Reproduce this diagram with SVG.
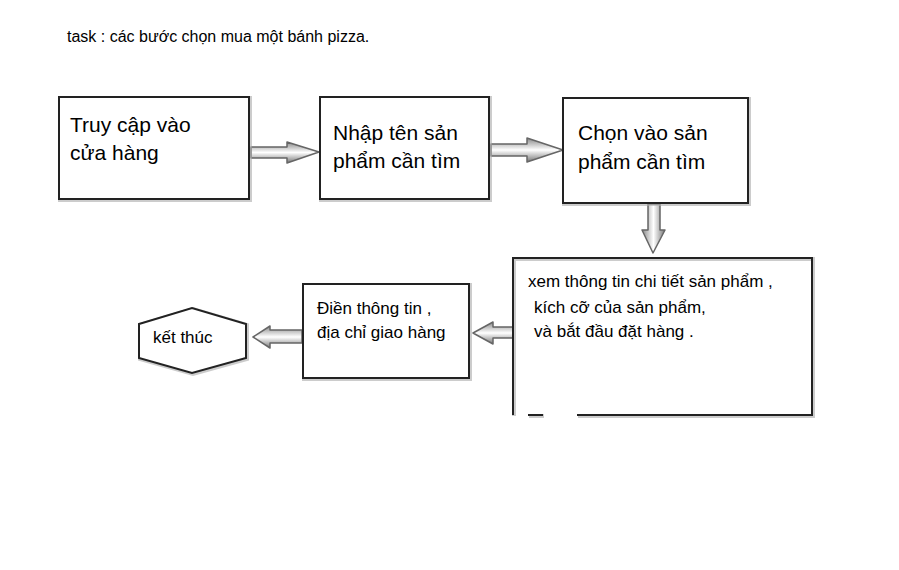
<svg xmlns="http://www.w3.org/2000/svg" width="899" height="570" viewBox="0 0 899 570">
<style>
.bx{fill:#fff;stroke:#222;stroke-width:2}
.sh{fill:none;stroke:#aaa;stroke-width:4;opacity:0.6}
.t{font-family:"Liberation Sans",Arial,sans-serif;fill:#000}
.big{font-size:21px}
.sm{font-size:17px}
.ar{fill:url(#gv);stroke:#666;stroke-width:1.5;stroke-linejoin:round}
.arh{fill:url(#gh);stroke:#666;stroke-width:1.5;stroke-linejoin:round}
</style>
<defs>
<linearGradient id="gv" x1="0" y1="0" x2="0" y2="1">
<stop offset="0" stop-color="#888"/><stop offset="0.5" stop-color="#fff"/><stop offset="1" stop-color="#777"/>
</linearGradient>
<linearGradient id="gh" x1="0" y1="0" x2="1" y2="0">
<stop offset="0" stop-color="#888"/><stop offset="0.5" stop-color="#fff"/><stop offset="1" stop-color="#777"/>
</linearGradient>
</defs>
<rect width="899" height="570" fill="#fff"/>
<text class="t" x="67" y="42" font-size="16">task : các bước chọn mua một bánh pizza.</text>

<g id="connectors">
<path class="ar" d="M251,147 L287,147 L287,142 L319,152 L287,163 L287,158 L251,158 Z"/>
<path class="ar" d="M491,144 L527,144 L527,138 L563,150 L527,162 L527,156 L491,156 Z"/>
<path class="arh" d="M648,204 L660,204 L660,230 L665,230 L653,253 L642,230 L648,230 Z"/>
<path class="ar" d="M513,327 L493,327 L493,322 L473,333 L493,344 L493,338 L513,338 Z"/>
<path class="ar" d="M302,330 L270,330 L270,326 L253,337 L270,348 L270,343 L302,343 Z"/>
</g>

<g id="n1">
<rect class="sh" x="60" y="98" width="190" height="102"/>
<rect class="bx" x="59" y="97" width="190" height="102"/>
<text class="t big" x="70" y="132">Truy cập vào</text>
<text class="t big" x="70" y="160">cửa hàng</text>
</g>

<g id="n2">
<rect class="sh" x="321" y="98" width="169" height="102"/>
<rect class="bx" x="320" y="97" width="169" height="102"/>
<text class="t big" x="333" y="140">Nhập tên sản</text>
<text class="t big" x="333" y="168">phẩm cần tìm</text>
</g>

<g id="n3">
<rect class="sh" x="564" y="99" width="185" height="105"/>
<rect class="bx" x="563" y="98" width="185" height="105"/>
<text class="t big" x="578" y="140">Chọn vào sản</text>
<text class="t big" x="578" y="169">phẩm cần tìm</text>
</g>

<g id="n4">
<rect x="513" y="258" width="299" height="157" fill="#fff"/>
<path d="M513,415 L513,258 L812,258 L812,415 L577,415 M543,415 L528,415" fill="none" stroke="#aaa" stroke-width="4" opacity="0.6" transform="translate(1,1)"/>
<path d="M513,415 L513,258 L812,258 L812,415 L577,415 M543,415 L528,415" fill="none" stroke="#222" stroke-width="2"/>
<text class="t sm" x="528" y="287">xem thông tin chi tiết sản phẩm ,</text>
<text class="t sm" x="534" y="313">kích cỡ của sản phẩm,</text>
<text class="t sm" x="534" y="337">và bắt đầu đặt hàng .</text>
</g>

<g id="n5">
<rect class="sh" x="304" y="285" width="166" height="94"/>
<rect class="bx" x="303" y="284" width="166" height="94"/>
<text class="t sm" x="317" y="314">Điền thông tin ,</text>
<text class="t sm" x="317" y="338">địa chỉ giao hàng</text>
</g>

<g id="n6">
<path d="M139,324 L192,308 L246,324 L246,358 L192,373 L139,358 Z" fill="none" stroke="#aaa" stroke-width="4" opacity="0.6" transform="translate(1,1)"/>
<path d="M139,324 L192,308 L246,324 L246,358 L192,373 L139,358 Z" fill="#fff" stroke="#222" stroke-width="2"/>
<text class="t sm" x="153" y="343">kết thúc</text>
</g>
</svg>
